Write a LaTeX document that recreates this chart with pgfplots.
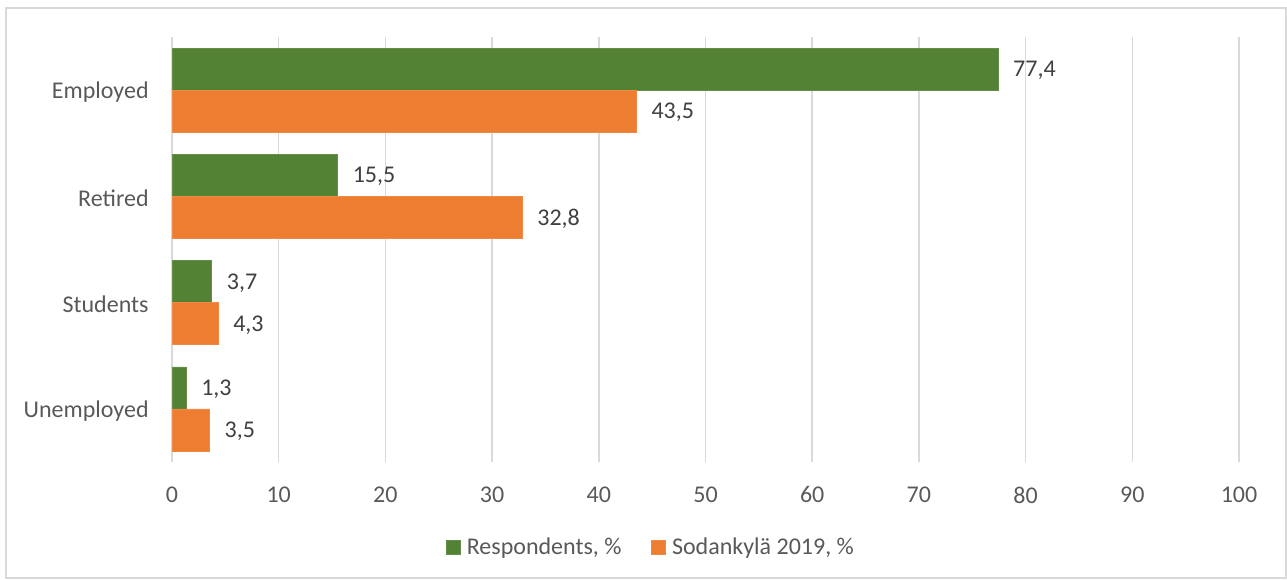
\documentclass[border=0pt]{standalone}
\usepackage{pgfplots}
\pgfplotsset{compat=1.18}
\usepackage{fontspec}
\setmainfont{Carlito}
\definecolor{cgreen}{HTML}{548235}
\definecolor{corange}{HTML}{ED7D31}
\definecolor{cgrid}{HTML}{D9D9D9}
\definecolor{ctext}{HTML}{595959}
\definecolor{clabel}{HTML}{404040}
\begin{document}
\begin{tikzpicture}
\path[use as bounding box] (0,0) rectangle (965.25pt,435pt);
\draw[cgrid, line width=0.8pt] (4.5pt,1.5pt) rectangle (964.5pt,429pt);
\begin{axis}[
  at={(129pt,88.5pt)}, anchor=south west,
  scale only axis, width=800.25pt, height=318.75pt,
  xbar, bar width=0.395,
  xmin=0, xmax=100, ymin=-0.5, ymax=3.5,
  xtick={0,10,...,100},
  ytick={0,1,2,3},
  yticklabels={Unemployed,Students,Retired,Employed},
  axis line style={draw=none},
  major tick length=0pt,
  xmajorgrids, major grid style={cgrid, line width=1.1pt},
  tick label style={font=\fontsize{18}{21}\selectfont, text=ctext},
  xticklabel style={yshift=-15pt},
  yticklabel style={xshift=-14pt, yshift=-1.5pt},
  /pgf/number format/assume math mode=true,
  nodes near coords,
  point meta=x,
  every node near coord/.append style={anchor=west, xshift=8pt, yshift=-1pt, font=\fontsize{18}{21}\selectfont, text=clabel, /pgf/number format/.cd, fixed, fixed zerofill, precision=1, use comma, assume math mode=true},
  legend columns=2,
  legend style={at={(0.449,-0.2)}, anchor=center, draw=none, font=\fontsize{18}{21}\selectfont, text=ctext, /tikz/every even column/.append style={column sep=20pt}, /tikz/every odd column/.append style={column sep=0pt}},
  legend image code/.code={\fill[#1] (0pt,-5.25pt) rectangle (10.5pt,5.25pt);},
]
\addplot[fill=cgreen, draw=cgreen!90!white, bar shift=0.198] coordinates {(1.3,0) (3.7,1) (15.5,2) (77.4,3)};
\addplot[fill=corange, draw=corange!90!white, bar shift=-0.198] coordinates {(3.5,0) (4.3,1) (32.8,2) (43.5,3)};
\legend{{\,Respondents, \%},{\,Sodankylä 2019, \%}}
\end{axis}
\end{tikzpicture}
\end{document}
